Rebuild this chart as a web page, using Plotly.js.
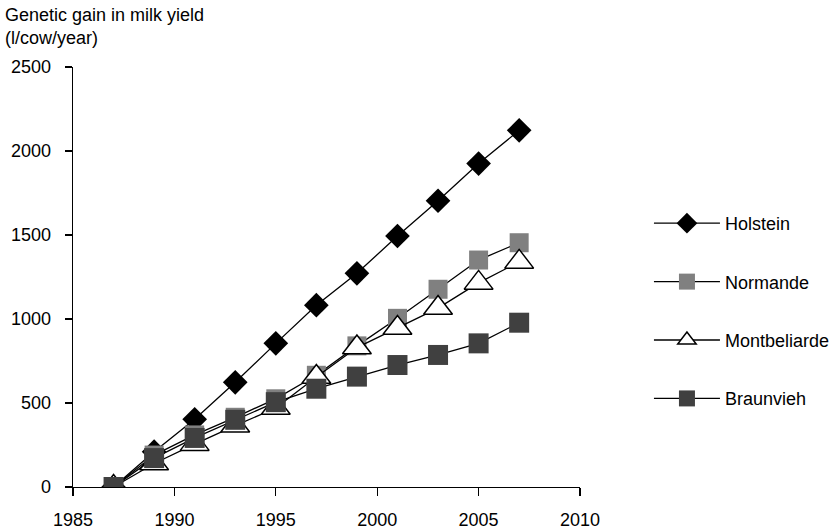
<!DOCTYPE html>
<html>
<head>
<meta charset="utf-8">
<script src="https://cdn.plot.ly/plotly-3.0.1.min.js"></script>
<style>html,body{margin:0;padding:0;background:#fff;}#chart{width:838px;height:530px;}</style>
</head>
<body>
<div id="chart"></div>
<script>
const years = [1987, 1989, 1991, 1993, 1995, 1997, 1999, 2001, 2003, 2005, 2007];
const holstein = [0, 210, 403, 623, 855, 1082, 1272, 1494, 1704, 1925, 2123];
const normande = [0, 190, 310, 415, 525, 665, 840, 1004, 1177, 1351, 1454];
const montbeliarde = [0, 140, 255, 365, 470, 655, 830, 946, 1065, 1215, 1340];
const braunvieh = [0, 172, 292, 400, 505, 585, 657, 726, 786, 855, 978];
const seriesNames = ['Holstein', 'Normande', 'Montbeliarde', 'Braunvieh'];

const lineStyle = {color: '#000', width: 1.3};
const traces = [
  {x: years, y: holstein, name: seriesNames[0], legendgroup: 'a', mode: 'lines+markers', line: lineStyle,
   marker: {symbol: 'diamond', size: 19, color: '#000', line: {width: 0}}},
  {x: years, y: normande, name: seriesNames[1], legendgroup: 'b', mode: 'lines+markers', line: lineStyle,
   marker: {symbol: 'square', size: 19, color: '#808080', line: {width: 0}}},
  {x: years, y: montbeliarde, name: seriesNames[2], legendgroup: 'c', mode: 'lines+markers', line: lineStyle,
   marker: {symbol: 'triangle-up', size: 25, color: '#fff', line: {width: 1.5, color: '#000'}}},
  {x: years, y: braunvieh, name: seriesNames[3], legendgroup: 'd', mode: 'lines+markers', line: lineStyle,
   marker: {symbol: 'square', size: 20, color: '#404040', line: {width: 0}}}
];

const font = {family: '"Liberation Sans", Arial, Helvetica, sans-serif', size: 18, color: '#000'};
const layout = {
  width: 838, height: 530,
  margin: {l: 73, r: 258, t: 67, b: 43, autoexpand: false},
  paper_bgcolor: '#fff', plot_bgcolor: '#fff',
  font: font,
  showlegend: true,
  title: {text: 'Genetic gain in milk yield<br>(l/cow/year)', x: 0.006, xref: 'container', xanchor: 'left',
          y: 0.961, yref: 'container', yanchor: 'top', font: font},
  xaxis: {range: [1985, 2010], tickvals: [1985, 1990, 1995, 2000, 2005, 2010], showgrid: false, zeroline: false,
          showline: true, linecolor: '#000', linewidth: 1.3, ticks: 'outside', ticklen: 8, tickwidth: 1.3,
          tickcolor: '#000', ticklabelstandoff: 8, fixedrange: true},
  yaxis: {range: [0, 2500], tickvals: [0, 500, 1000, 1500, 2000, 2500], showgrid: false, zeroline: false,
          showline: true, linecolor: '#000', linewidth: 1.3, ticks: 'outside', ticklen: 7, tickwidth: 1.3,
          tickcolor: '#000', ticklabelstandoff: 10, fixedrange: true},
  legend: {x: 1.136, xanchor: 'left', y: 0.419, yanchor: 'middle', tracegroupgap: 32, itemwidth: 66,
           font: font, bgcolor: 'rgba(0,0,0,0)', borderwidth: 0, itemsizing: 'trace'}
};
Plotly.newPlot('chart', traces, layout, {displayModeBar: false, staticPlot: true});
</script>
</body>
</html>
